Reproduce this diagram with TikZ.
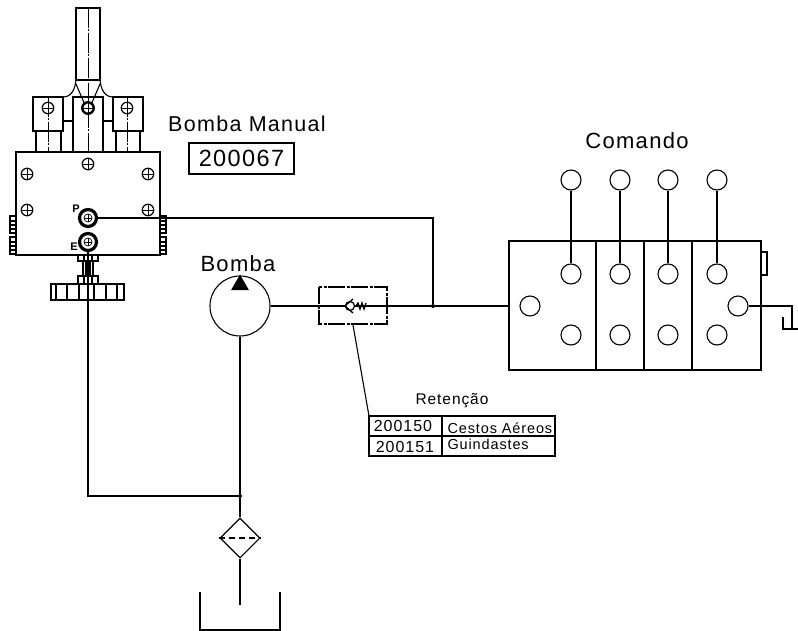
\documentclass[tikz,border=0pt]{standalone}
\usepackage{fontspec}
\setmainfont[LetterSpace=6]{Liberation Sans}
\usetikzlibrary{shapes.geometric}

\tikzset{
  port/.style={draw, circle, line width=1.1pt, minimum size=20pt, inner sep=0pt},
  screw/.style={draw, circle, line width=1.2pt, minimum size=11.5pt, inner sep=0pt,
    path picture={\draw[line width=0.9pt] (path picture bounding box.north) -- (path picture bounding box.south)
      (path picture bounding box.west) -- (path picture bounding box.east);}},
  heavyport/.style={draw, circle, line width=3.2pt, minimum size=17pt, inner sep=0pt},
  pin/.style={screw, line width=0.7pt, minimum size=8pt},
  axis/.style={line width=0.9pt, dash pattern=on 20pt off 1.5pt on 2pt off 1.5pt},
  pipe/.style={line width=1.1pt},
  joint/.style={circle, fill, inner sep=0pt, outer sep=0pt, minimum size=4pt},
  tag/.style={font=\fontsize{14.5}{14.5}\selectfont},
  portname/.style={font=\bfseries\fontsize{11}{11}\selectfont, inner sep=0pt}
}

\begin{document}
\begin{tikzpicture}[x=1pt, y=-1pt, line width=1.1pt]
      \useasboundingbox (0,0) rectangle (798,631);

      % manual pump
      \draw[line width=1.4pt] (16,152) rectangle (160,255);
      \draw (76,8) rectangle (100,80);
      \draw[line width=2pt] (76,8) -- (100,8);
      \draw (76,80) .. controls (75,90) and (71,97) .. (63,97);
      \draw (100,80) .. controls (101,90) and (105,97) .. (113,97);
      \draw (76,84) -- (85,105) (100,84) -- (91,105);
      \draw[line width=1.4pt] (33,97) rectangle (63,131);
      \draw (73,97) rectangle (103,152);
      \draw[line width=1.4pt] (113,97) rectangle (143,131);
      \draw (63,121) -- (73,121) (103,121) -- (113,121);
      \draw (36,131) -- (36,152) (61,131) -- (61,152);
      \draw (116,131) -- (116,152) (140,131) -- (140,152);
      \draw[axis] (88,8) -- (88,152);
      \draw[axis] (48,97) -- (48,152);
      \draw[axis] (127,97) -- (127,152);

      \node[screw] (sa) at (48,108) {};
      \node[screw, line width=2.4pt] (sb) at (88,108) {};
      \node[screw] (sc) at (127,108) {};
      \node[screw] (sd) at (88,164) {};
      \node[screw] (se) at (27,174) {};
      \node[screw] (sf) at (148,174) {};
      \node[screw] (sg) at (27,210) {};
      \node[screw] (sh) at (148,210) {};
      \node[heavyport] (p) at (88,218) {};
      \node[heavyport] (e) at (88,242) {};
      \node[pin] (ppin) at (88,218) {};
      \node[pin] (epin) at (88,242) {};
      \node[portname] (plabel) at (76,209) {P};
      \node[portname] (elabel) at (74,247) {E};

      % side knurls
      \draw (10,216) rectangle (16,233) (10,221) -- (16,221) (10,225) -- (16,225) (10,229) -- (16,229);
      \draw (10,237) rectangle (16,254) (10,242) -- (16,242) (10,246) -- (16,246) (10,250) -- (16,250);
      \draw (160,216) rectangle (166,233) (160,221) -- (166,221) (160,225) -- (166,225) (160,229) -- (166,229);
      \draw (160,237) rectangle (166,254) (160,242) -- (166,242) (160,246) -- (166,246) (160,250) -- (166,250);

      % knob
      \draw (78,255) rectangle (98,261) (84,255) -- (84,261) (92,255) -- (92,261);
      \draw (83,261) -- (83,276) (86,261) -- (86,276) (90,261) -- (90,276) (93,261) -- (93,276);
      \draw (78,276) rectangle (98,284) (84,276) -- (84,284) (92,276) -- (92,284);
      \draw (51,284) rectangle (124,300);
      \draw (56,284) -- (56,300) (67,284) -- (67,300) (79,284) -- (79,300);
      \draw (94,284) -- (94,300) (106,284) -- (106,300) (117,284) -- (117,300);

      % pump, filter and tank
      \node[port, minimum size=60pt] (pump) at (240,306) {};
      \node[draw, isosceles triangle, isosceles triangle apex angle=60, shape border rotate=90,
        fill, inner sep=0pt, minimum height=13pt, minimum width=16pt] (mark) at (240,285) {};
      \node[draw, diamond, minimum size=40pt, inner sep=0pt] (filter) at (240,538) {};
      \draw[dash pattern=on 6pt off 4pt] (filter.west) -- (filter.east);
      \node[joint] (tee) at (240,496) {};
      \coordinate (tankin) at (240,605);
      \draw[pipe] (pump) -- (tee);
      \draw[pipe] (tee) -- (filter);
      \draw[pipe] (filter) -- (tankin);
      \draw[pipe] (e) -- (88,496) -- (tee);
      \draw (200,592) -- (200,630) -- (280,630) -- (280,592);

      % control valve
      \draw[line width=1.4pt] (509,241) rectangle (761,370);
      \draw (596,241) -- (596,370) (644,241) -- (644,370) (692,241) -- (692,370);
      \draw (761,252) rectangle (767,275);
      \node[port] (ta) at (571,180) {};
      \node[port] (tb) at (620,180) {};
      \node[port] (tc) at (668,180) {};
      \node[port] (td) at (717,180) {};
      \node[port] (ma) at (571,274) {};
      \node[port] (mb) at (620,274) {};
      \node[port] (mc) at (668,274) {};
      \node[port] (md) at (717,274) {};
      \node[port] (ba) at (571,335) {};
      \node[port] (bb) at (620,335) {};
      \node[port] (bc) at (668,335) {};
      \node[port] (bd) at (717,335) {};
      \node[port] (inlet) at (530,306) {};
      \node[port] (outlet) at (738,306) {};
      \draw[pipe] (ta) -- (ma);
      \draw[pipe] (tb) -- (mb);
      \draw[pipe] (tc) -- (mc);
      \draw[pipe] (td) -- (md);
      \coordinate (body) at (509,306);
      \coordinate (drain) at (798,329);
      \coordinate (drainend) at (783,317);
      \draw[pipe] (outlet) -- (792,306) -- (792,329) -- (783,329) -- (drainend);
      \draw[pipe] (792,329) -- (drain);

      % pressure and delivery lines
      \node[joint] (branch) at (433,306) {};
      \draw[pipe] (pump) -- (branch);
      \draw[pipe] (branch) -- (body);
      \draw[pipe] (p) -- (433,218) -- (branch);

      % check valve
      \draw[dash pattern=on 17pt off 1.5pt on 3pt off 1.5pt] (319,287) rectangle (387,324);
      \node[draw, circle, fill=white, inner sep=0pt, minimum size=9pt, line width=1.2pt] (ball) at (350,306) {};
      \draw[line width=1.3pt] (353,299) -- (345,306) -- (353,313);
      \draw[line width=1.3pt] (356,306) -- (358,303) -- (360,309) -- (362,303) -- (364,309) -- (366,303);

      % labels
      \node[font=\fontsize{21.5}{21.5}\selectfont] (manual) at (247,124) {Bomba Manual};
      \node[draw, font=\fontsize{23.5}{23.5}\selectfont, minimum width=105pt, minimum height=31pt,
        inner sep=0pt] (code) at (241.5,158.5) {200067};
      \node[font=\fontsize{22}{22}\selectfont] (cmd) at (637,141) {Comando};
      \node[font=\fontsize{22}{22}\selectfont] (pumplabel) at (238,264) {Bomba};

      % table
      \node[font=\fontsize{15.5}{15.5}\selectfont] (ret) at (452,401) {Retenção};
      \coordinate (tablecorner) at (369,416);
      \coordinate (leadstart) at (353,325);
      \draw (leadstart) -- (tablecorner);
      \draw (369,416) rectangle (555,456);
      \draw (369,436) -- (555,436) (442,416) -- (442,456);
      \node[font=\fontsize{16}{16}\selectfont] (rowa) at (403,426) {200150};
      \node[font=\fontsize{16}{16}\selectfont] (rowb) at (405,447) {200151};
      \node[tag, anchor=west, inner sep=0pt] (cesto) at (447,428) {Cestos Aéreos};
      \node[tag, anchor=west, inner sep=0pt] (guin) at (447,444) {Guindastes};
    \end{tikzpicture}
\end{document}
